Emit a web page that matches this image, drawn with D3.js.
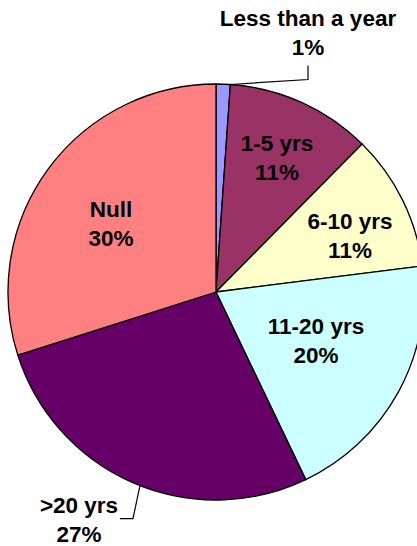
<!DOCTYPE html>
<html>
<head>
<meta charset="utf-8">
<script src="https://cdn.jsdelivr.net/npm/d3@7"></script>
<style>
  html, body { margin: 0; padding: 0; background: #fff; overflow: hidden; }
  svg { display: block; }
  text { font-family: "Liberation Sans", Arial, sans-serif; font-weight: bold; fill: #000; }
</style>
</head>
<body>
<div id="root"></div>
<script>
// data (percent of respondents)
const categories = ["Less than a year", "1-5 yrs", "6-10 yrs", "11-20 yrs", ">20 yrs", "Null"];
const shares = [1.1, 11.3, 10.6, 19.9, 27.2, 29.9];
const colors = ["#9999FF", "#993366", "#FFFFCC", "#CCFFFF", "#660066", "#FF8080"];

const width = 417;
const height = 546;
const cx = 216, cy = 292, radius = 208;
const fontSize = 22.5;
const lineGap = 29;

// where each label block sits, relative to the pie centre
const labelSpots = [
  { dx: 92, dy: -260 },
  { dx: 61, dy: -135 },
  { dx: 134, dy: -57 },
  { dx: 100, dy: 48 },
  { dx: -137, dy: 227 },
  { dx: -105, dy: -69 }
];

const data = categories.map((c, i) => ({ cat: c, value: shares[i], color: colors[i] }));

const svg = d3.select("#root")
  .append("svg")
    .attr("width", width)
    .attr("height", height);

const pie = d3.pie().sort(null).value(d => d.value);
const arc = d3.arc().innerRadius(0).outerRadius(radius);
const arcs = pie(data);

const g = svg.append("g")
  .attr("transform", `translate(${cx},${cy})`);

g.selectAll("path")
  .data(arcs)
  .enter()
  .append("path")
    .attr("d", arc)
    .attr("fill", d => d.data.color)
    .attr("stroke", "#000")
    .attr("stroke-width", 1.3)
    .attr("stroke-linejoin", "round");

// leader lines for the two labels that sit outside the pie
function edgePoint(d, t) {
  const a = d.startAngle + (d.endAngle - d.startAngle) * t;
  return [Math.sin(a) * radius, -Math.cos(a) * radius];
}
const p0 = edgePoint(arcs[0], 1);
const s0 = labelSpots[0];
g.append("path")
  .attr("d", d3.line()([p0, [s0.dx, p0[1] - 5], [s0.dx, p0[1] - 19]]))
  .attr("fill", "none").attr("stroke", "#000").attr("stroke-width", 1.2);

const p4 = edgePoint(arcs[4], 0.48);
g.append("path")
  .attr("d", d3.line()([p4, [p4[0] - 7, p4[1] + 33], [p4[0] - 20, p4[1] + 33]]))
  .attr("fill", "none").attr("stroke", "#000").attr("stroke-width", 1.2);

const fmt = d3.format(".0f");

const labels = g.selectAll("text.lbl")
  .data(arcs)
  .enter()
  .append("text")
    .attr("class", "lbl")
    .attr("text-anchor", "middle")
    .attr("font-size", fontSize)
    .attr("transform", (d, i) => `translate(${labelSpots[i].dx},${labelSpots[i].dy})`);

labels.append("tspan")
  .attr("x", 0)
  .attr("y", -lineGap / 2 + fontSize * 0.36)
  .text(d => d.data.cat);

labels.append("tspan")
  .attr("x", 0)
  .attr("y", lineGap / 2 + fontSize * 0.36)
  .text(d => fmt(d.data.value) + "%");
</script>
</body>
</html>
